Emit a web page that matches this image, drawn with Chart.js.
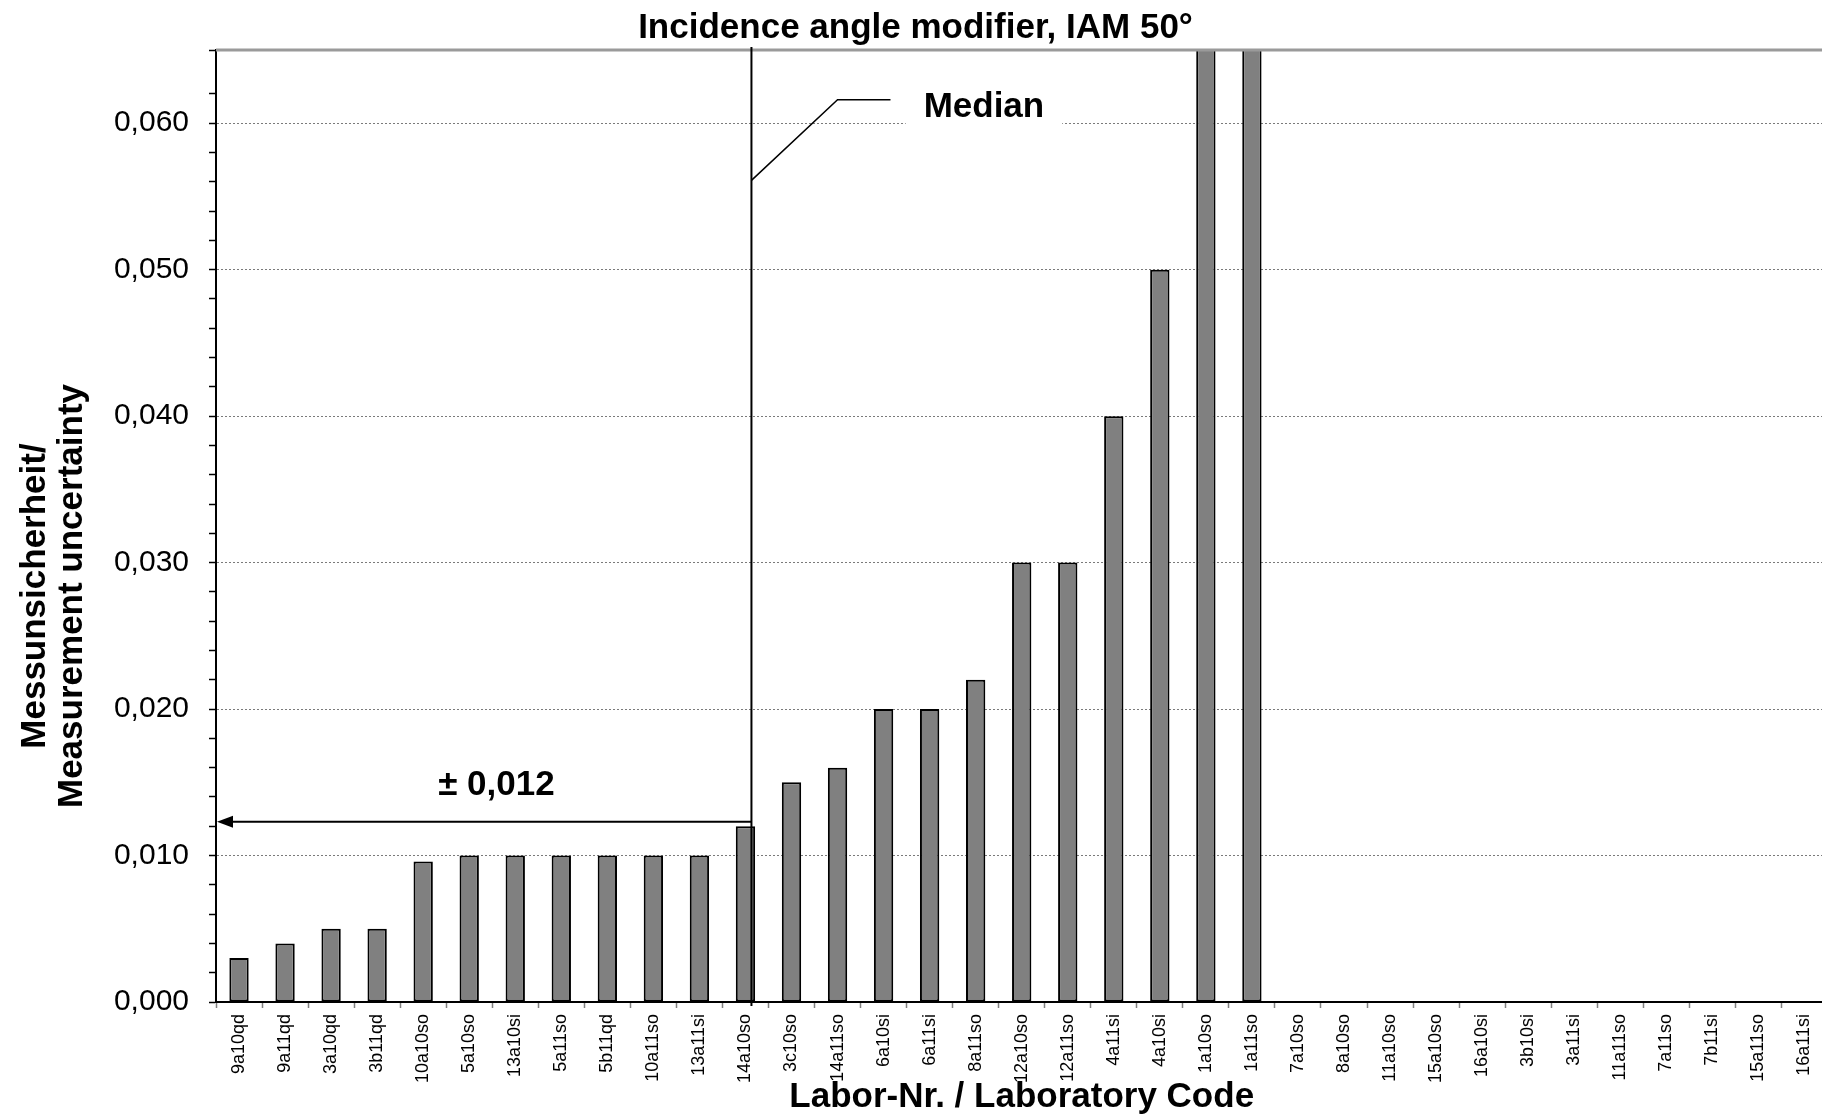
<!DOCTYPE html>
<html>
<head>
<meta charset="utf-8">
<script src="https://cdn.jsdelivr.net/npm/chart.js@4"></script>
<style>
  html, body { margin: 0; padding: 0; background: #fff; overflow: hidden; }
  #wrap { width: 1832px; height: 1118px; }
</style>
</head>
<body>
<div id="wrap"><canvas id="iamChart"></canvas></div>
<script>
// Laboratory codes (x categories)
const labCodes = [
  '9a10qd', '9a11qd', '3a10qd', '3b11qd', '10a10so', '5a10so', '13a10si', '5a11so',
  '5b11qd', '10a11so', '13a11si', '14a10so', '3c10so', '14a11so', '6a10si', '6a11si',
  '8a11so', '12a10so', '12a11so', '4a11si', '4a10si', '1a10so', '1a11so', '7a10so',
  '8a10so', '11a10so', '15a10so', '16a10si', '3b10si', '3a11si', '11a11so', '7a11so',
  '7b11si', '15a11so', '16a11si'
];

// Measurement uncertainty per lab (1a10so / 1a11so run off the top of the axis)
const uncertainty = [
  0.003, 0.004, 0.005, 0.005, 0.0096, 0.010, 0.010, 0.010,
  0.010, 0.010, 0.010, 0.012, 0.015, 0.016, 0.020, 0.020,
  0.022, 0.030, 0.030, 0.040, 0.050, 0.080, 0.080, null,
  null, null, null, null, null, null, null, null,
  null, null, null
];

// y axis
const yMin = 0;
const yMax = 0.065;
const yMinorStep = 0.002;
const yMajorStep = 0.010;

// median marker
const medianValue = 0.012;
const medianLabel = 'Median';
const rangeLabel = '\u00b1 0,012';

const fontFamily = "'Liberation Sans', Arial, sans-serif";
Chart.defaults.font.family = fontFamily;
Chart.defaults.color = '#000';

function isMajor(v) {
  return Math.round(v * 1000) % Math.round(yMajorStep * 1000) === 0;
}

// median line, leader, arrow, labels, top frame, y title
const extras = {
  id: 'extras',
  afterDatasetsDraw(chart) {
    const { ctx, chartArea: a, scales: { x, y } } = chart;
    const cw = x.getPixelForValue(1) - x.getPixelForValue(0);
    const xAt = (v) => x.getPixelForValue(0) + v * cw;
    const mx = xAt(11.13);

    ctx.save();

    // top frame line
    ctx.strokeStyle = '#9a9a9a';
    ctx.lineWidth = 3;
    ctx.beginPath();
    ctx.moveTo(a.left, a.top);
    ctx.lineTo(a.right, a.top);
    ctx.stroke();

    // white box behind "Median"
    ctx.fillStyle = '#fff';
    ctx.fillRect(xAt(14.48), y.getPixelForValue(0.060) - 4, xAt(17.88) - xAt(14.48), 8);

    // median vertical line
    ctx.strokeStyle = '#000';
    ctx.lineWidth = 2;
    ctx.beginPath();
    ctx.moveTo(mx, a.top - 3);
    ctx.lineTo(mx, a.bottom + 4);
    ctx.stroke();

    // leader to label
    ctx.lineWidth = 1.5;
    ctx.beginPath();
    ctx.moveTo(mx, y.getPixelForValue(0.0561));
    ctx.lineTo(xAt(13.0), y.getPixelForValue(0.0616));
    ctx.lineTo(xAt(14.15), y.getPixelForValue(0.0616));
    ctx.stroke();

    // arrow from median to y axis
    const ay = y.getPixelForValue(medianValue + 0.0003);
    ctx.lineWidth = 2;
    ctx.beginPath();
    ctx.moveTo(mx, ay);
    ctx.lineTo(a.left + 14, ay);
    ctx.stroke();
    ctx.fillStyle = '#000';
    ctx.beginPath();
    ctx.moveTo(a.left + 1, ay);
    ctx.lineTo(a.left + 17, ay - 6);
    ctx.lineTo(a.left + 17, ay + 6);
    ctx.closePath();
    ctx.fill();

    // texts
    ctx.font = 'bold 35px ' + fontFamily;
    ctx.textBaseline = 'alphabetic';
    ctx.textAlign = 'left';
    ctx.fillText(medianLabel, xAt(14.87), y.getPixelForValue(0.0604));
    ctx.textAlign = 'center';
    ctx.fillText(rangeLabel, xAt(5.59), y.getPixelForValue(0.01414));

    // y axis title (two lines)
    const cy = (a.top + a.bottom) / 2 + 70;
    ctx.translate(0, cy);
    ctx.rotate(-Math.PI / 2);
    ctx.textBaseline = 'middle';
    ctx.fillText('Messunsicherheit/', 0, 35);
    ctx.fillText('Measurement uncertainty', 0, 72);

    ctx.restore();
  }
};

new Chart(document.getElementById('iamChart'), {
  type: 'bar',
  data: {
    labels: labCodes,
    datasets: [{
      label: 'Measurement uncertainty',
      data: uncertainty,
      backgroundColor: '#808080',
      borderColor: '#000',
      borderWidth: 2,
      borderSkipped: false,
      barPercentage: 0.42,
      categoryPercentage: 1.0
    }]
  },
  options: {
    responsive: true,
    maintainAspectRatio: false,
    animation: false,
    layout: { padding: { left: 0, right: 1, top: 0, bottom: 0 } },
    plugins: {
      legend: { display: false },
      tooltip: { enabled: false },
      title: {
        display: true,
        text: 'Incidence angle modifier, IAM 50\u00b0',
        color: '#000',
        font: { size: 35, weight: 'bold' },
        padding: { top: 7, bottom: 1 }
      }
    },
    scales: {
      x: {
        grid: {
          offset: true,
          drawOnChartArea: false,
          tickLength: 6,
          tickColor: '#808080',
          tickWidth: 1.5
        },
        border: { color: '#000', width: 2 },
        ticks: {
          autoSkip: false,
          minRotation: 90,
          maxRotation: 90,
          padding: 6,
          font: { size: 18 },
          color: '#000'
        },
        title: {
          display: true,
          text: 'Labor-Nr. / Laboratory Code',
          color: '#000',
          font: { size: 35, weight: 'bold' },
          padding: 0
        },
        afterFit(scale) { scale.height = 116; }
      },
      y: {
        min: yMin,
        max: yMax,
        grid: {
          color: (c) => (c.tick && c.tick.value > 0 && isMajor(c.tick.value)) ? '#7a7a7a' : 'rgba(0,0,0,0)',
          lineWidth: 1,
          tickLength: 7,
          tickColor: '#000',
          tickWidth: 1.5
        },
        border: { color: '#000', width: 2, dash: [2, 2] },
        ticks: {
          stepSize: yMinorStep,
          autoSkip: false,
          padding: 20,
          font: { size: 30 },
          color: '#000',
          callback: (v) => isMajor(v) && v <= yMax ? v.toFixed(3).replace('.', ',') : ''
        },
        afterFit(scale) { scale.width = 216; }
      }
    }
  },
  plugins: [extras]
});
</script>
</body>
</html>
